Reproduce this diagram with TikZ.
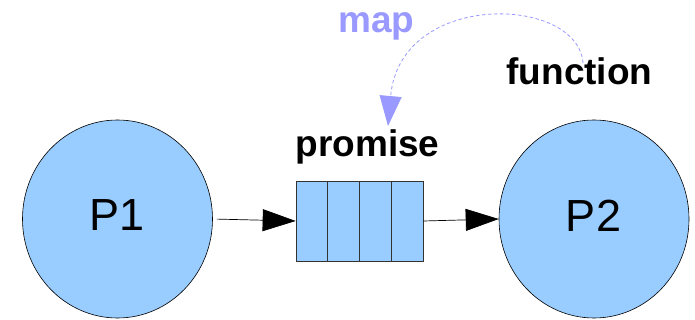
\documentclass[tikz,border=0pt]{standalone}
\usepackage{fontspec}
\setmainfont{Liberation Sans}
\usetikzlibrary{shapes.geometric,arrows.meta,calc}
\definecolor{procfill}{HTML}{99CCFF}
\definecolor{mapblue}{HTML}{9999FF}
\begin{document}
\begin{tikzpicture}[x=1pt,y=-1pt,
  proc/.style={ellipse,draw=black,line width=0.6pt,fill=procfill,minimum width=190pt,minimum height=198pt,inner sep=0pt},
  queuebox/.style={rectangle,draw=black!80,line width=0.7pt,fill=procfill,minimum width=127pt,minimum height=80pt,inner sep=0pt},
  flow/.style={draw=black,line width=0.7pt,-{Triangle[length=33pt,width=22pt]}},
  maparrow/.style={draw=mapblue,line width=0.8pt,dash pattern=on 3.5pt off 2.5pt,-{Triangle[length=30pt,width=22pt,fill=mapblue]}},
  proclabel/.style={font=\fontsize{45}{50}\selectfont,anchor=base,inner sep=0pt},
  boldlabel/.style={font=\fontsize{37}{40}\selectfont\bfseries,anchor=base,inner sep=0pt}
]
\useasboundingbox (0,0) rectangle (695,320);
\node[proc] (p1) at (117.5,219) {};
\node[proc] (p2) at (594,219) {};
\node[proclabel] (p1t) at (117.5,230) {P1};
\node[proclabel] (p2t) at (593.5,231) {P2};
\node[queuebox] (q) at (359.5,221) {};
\foreach \f in {0.25,0.5,0.75}
  \draw[black!80,line width=0.7pt] ($(q.north west)!\f!(q.north east)$) -- ($(q.south west)!\f!(q.south east)$);
\draw[flow,shorten <=4pt] (p1.east) -- (q.west);
\draw[flow] (q.east) -- (p2.west);
\node[boldlabel] (promise) at (367.5,157) {promise};
\node[boldlabel,text=mapblue] (map) at (376.5,33) {map};
\node[boldlabel] (func) at (579.5,85) {function};
\coordinate (fstart) at (583,63);
\coordinate (mapend) at (388,126);
\draw[maparrow] (fstart) .. controls (578,-5) and (400,-10) .. (mapend);
\end{tikzpicture}
\end{document}
